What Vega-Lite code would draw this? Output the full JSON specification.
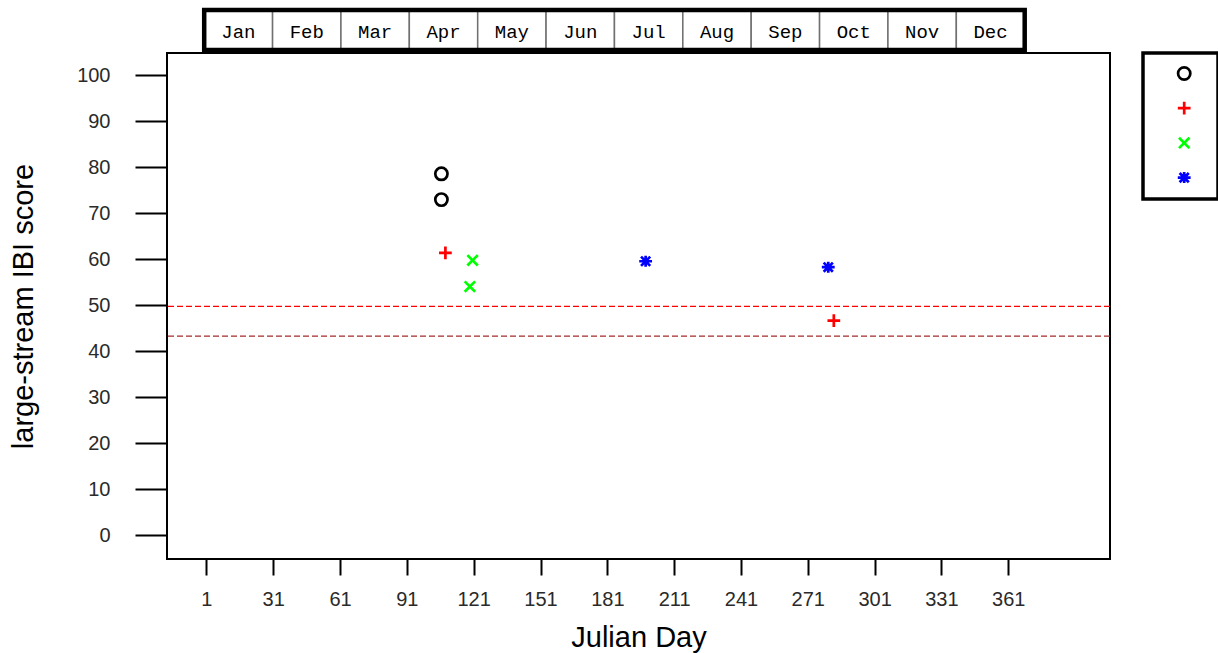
{
  "$schema": "https://vega.github.io/schema/vega-lite/v6.json",
  "width": 943,
  "height": 506,
  "autosize": {"type": "none"},
  "padding": {"left": 167, "top": 53, "right": 108, "bottom": 94},
  "background": "white",
  "config": {
    "view": {"stroke": "black", "strokeWidth": 2},
    "font": "Liberation Sans",
    "axis": {
      "domain": false,
      "grid": false,
      "tickColor": "black",
      "tickWidth": 2,
      "labelFont": "Liberation Sans",
      "labelFontSize": 20,
      "labelColor": "#2a2a2a",
      "labelFlush": false,
      "labelOverlap": false,
      "titleFont": "Liberation Sans",
      "titleFontSize": 29,
      "titleFontWeight": "normal",
      "titleColor": "black"
    },
    "axisX": {"tickSize": 16, "labelPadding": 14, "titlePadding": 14},
    "axisY": {"tickSize": 32, "labelPadding": 25, "titlePadding": 38},
    "legend": {
      "orient": "right",
      "offset": 33,
      "padding": 13,
      "rowPadding": 19.7,
      "clipHeight": 15,
      "symbolOffset": 20.7,
      "labelOffset": 13,
      "strokeColor": "black",
      "strokeWidth": 3.5,
      "symbolSize": 150,
      "symbolStrokeWidth": 2.7,
      "labelFontSize": 1,
      "title": null
    }
  },
  "datasets": {
    "months": [
      {"month": "Jan", "start": 0, "end": 30.7},
      {"month": "Feb", "start": 30.7, "end": 61.4},
      {"month": "Mar", "start": 61.4, "end": 92.1},
      {"month": "Apr", "start": 92.1, "end": 122.8},
      {"month": "May", "start": 122.8, "end": 153.5},
      {"month": "Jun", "start": 153.5, "end": 184.2},
      {"month": "Jul", "start": 184.2, "end": 214.9},
      {"month": "Aug", "start": 214.9, "end": 245.6},
      {"month": "Sep", "start": 245.6, "end": 276.3},
      {"month": "Oct", "start": 276.3, "end": 307.0},
      {"month": "Nov", "start": 307.0, "end": 337.7},
      {"month": "Dec", "start": 337.7, "end": 368.4}
    ],
    "points": [
      {"day": 106.5, "score": 78.6, "group": "g1"},
      {"day": 106.5, "score": 73.0, "group": "g1"},
      {"day": 108.3, "score": 61.4, "group": "g2"},
      {"day": 282.7, "score": 46.7, "group": "g2"},
      {"day": 120.5, "score": 59.8, "group": "g3"},
      {"day": 119.3, "score": 54.1, "group": "g3"},
      {"day": 198.2, "score": 59.6, "group": "g4"},
      {"day": 280.2, "score": 58.3, "group": "g4"}
    ]
  },
  "layer": [
    {
      "data": {"name": "months"},
      "mark": {"type": "rect", "fill": "white", "stroke": "#707070", "strokeWidth": 1.5},
      "encoding": {
        "x": {"field": "start", "type": "quantitative", "title": "Julian Day",
              "scale": {"domain": [-16.7, 406.7], "nice": false, "zero": false},
              "axis": {"values": [1, 31, 61, 91, 121, 151, 181, 211, 241, 271, 301, 331, 361]}},
        "x2": {"field": "end"},
        "y": {"datum": 105.52, "type": "quantitative", "title": "large-stream IBI score",
              "scale": {"domain": [-5.13, 104.87], "nice": false, "zero": false},
              "axis": {"values": [0, 10, 20, 30, 40, 50, 60, 70, 80, 90, 100]}},
        "y2": {"datum": 114.22}
      }
    },
    {
      "data": {"name": "months"},
      "mark": {"type": "text", "font": "Liberation Mono", "fontSize": 19, "color": "black", "align": "center", "baseline": "middle", "dx": 34.2},
      "encoding": {
        "x": {"field": "start", "type": "quantitative", "title": "Julian Day"},
        "y": {"datum": 109.5, "type": "quantitative", "title": "large-stream IBI score"},
        "text": {"field": "month"}
      }
    },
    {
      "data": {"name": "months"},
      "mark": {"type": "rect", "fillOpacity": 0, "stroke": "black", "strokeWidth": 4.5},
      "encoding": {
        "x": {"aggregate": "min", "field": "start", "type": "quantitative", "title": "Julian Day"},
        "x2": {"aggregate": "max", "field": "end"},
        "y": {"datum": 105.52, "type": "quantitative", "title": "large-stream IBI score"},
        "y2": {"datum": 114.22}
      }
    },
    {
      "data": {"values": [{"score": 49.8}]},
      "mark": {"type": "rule", "color": "#ff0000", "strokeWidth": 1.3, "strokeDash": [6, 3]},
      "encoding": {
        "y": {"field": "score", "type": "quantitative", "title": "large-stream IBI score"}
      }
    },
    {
      "data": {"values": [{"score": 43.3}]},
      "mark": {"type": "rule", "color": "#a52a2a", "strokeWidth": 1.3, "strokeDash": [6, 3]},
      "encoding": {
        "y": {"field": "score", "type": "quantitative", "title": "large-stream IBI score"}
      }
    },
    {
      "data": {"name": "points"},
      "mark": {"type": "point", "filled": false, "strokeWidth": 2.7, "size": 150, "opacity": 1},
      "encoding": {
        "x": {"field": "day", "type": "quantitative", "title": "Julian Day"},
        "y": {"field": "score", "type": "quantitative", "title": "large-stream IBI score"},
        "color": {"field": "group", "type": "nominal",
                  "scale": {"domain": ["g1", "g2", "g3", "g4"], "range": ["#000000", "#ff0000", "#00ff00", "#0000ff"]},
                  "legend": {"labelExpr": "''", "title": null}},
        "shape": {"field": "group", "type": "nominal",
                  "scale": {"domain": ["g1", "g2", "g3", "g4"],
                            "range": ["circle", "M-1.04,0L1.04,0M0,-1.04L0,1.04", "M-0.85,-0.85L0.85,0.85M-0.85,0.85L0.85,-0.85", "M-1.05,0L1.05,0M0,-0.9L0,0.9M-0.75,-0.75L0.75,0.75M-0.75,0.75L0.75,-0.75"]},
                  "legend": {"labelExpr": "''", "title": null}}
      }
    }
  ]
}
